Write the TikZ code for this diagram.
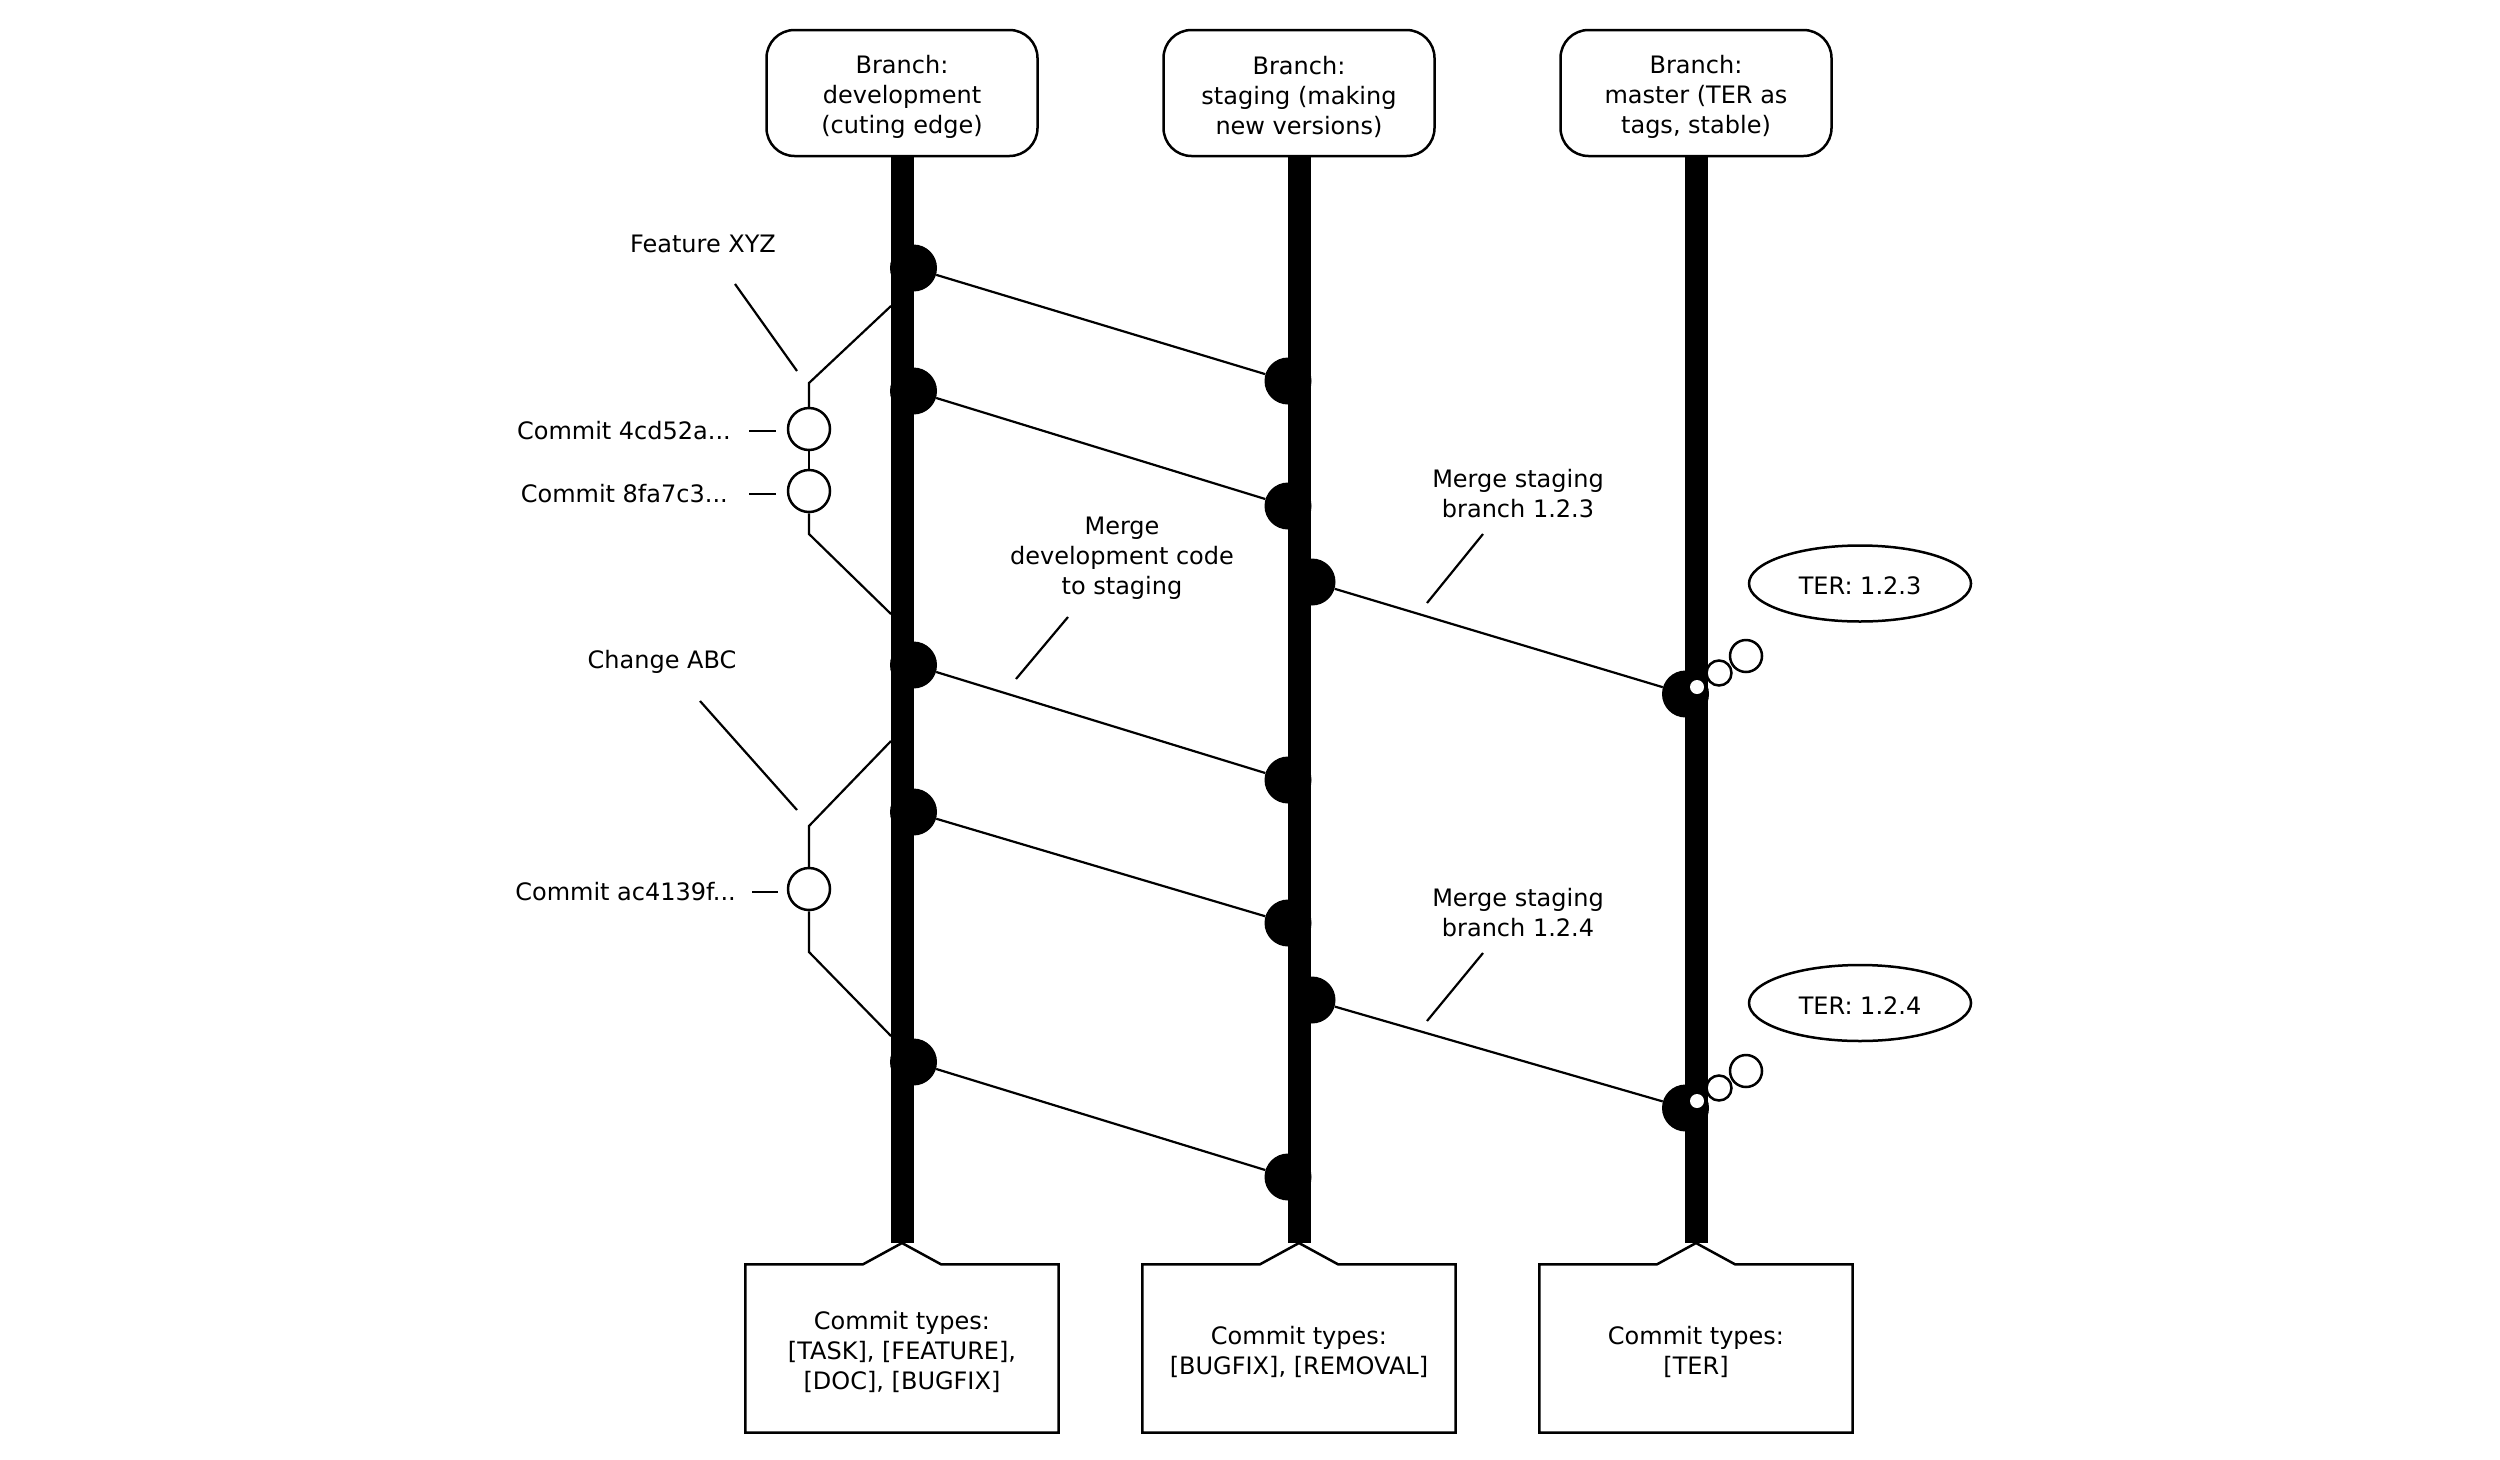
\documentclass[tikz,border=0pt]{standalone}
\usepackage{fontspec}
\setmainfont{DejaVu Sans}
\usetikzlibrary{shapes.geometric,calc}
\begin{document}
\begin{tikzpicture}[x=1pt,y=-1pt]
\tikzset{
 txt/.style={font=\fontsize{24}{30}\selectfont, align=center, inner sep=0pt},
 headbox/.style={draw, line width=2.5pt, rounded corners=28pt, minimum width=271pt, minimum height=126pt, inner sep=0pt},
 footbox/.style={minimum width=313pt, minimum height=168pt, inner sep=0pt},
 trunk/.style={line width=23pt},
 conn/.style={line width=2.2pt},
 boxline/.style={line width=2.5pt, line join=miter},
 hdot/.style={circle, fill=black, minimum size=47pt, inner sep=0pt},
 cmt/.style={circle, draw, fill=white, line width=2.5pt, minimum size=42pt, inner sep=0pt},
 ter/.style={ellipse, draw, line width=2.5pt, minimum width=222pt, minimum height=76pt, inner sep=0pt},
 bub/.style={circle, draw, fill=white, line width=2.5pt, inner sep=0pt},
 wdot/.style={circle, fill=white, minimum size=14pt, inner sep=0pt},
}
\useasboundingbox (0,0) rectangle (2500,1459);

% head boxes
\node[headbox] (topdev) at (902,93) {};
\node[headbox] (topstg) at (1299,93) {};
\node[headbox] (topmst) at (1696,93) {};
\node[txt] (topdevt) at (902,97) {Branch:\\development\\(cuting edge)};
\node[txt] (topstgt) at (1299,97) {Branch:\\staging (making\\new versions)};
\node[txt] (topmstt) at (1696,97) {Branch:\\master (TER as\\tags, stable)};

% trunk ends
\coordinate (adev) at (902,1243);
\coordinate (astg) at (1299,1243);
\coordinate (amst) at (1696,1243);

% bottom boxes
\node[footbox] (botdev) at (902,1348.5) {};
\node[footbox] (botstg) at (1299,1348.5) {};
\node[footbox] (botmst) at (1696,1348.5) {};
\node[txt] (botdevt) at (902,1352) {Commit types:\\{}[TASK], [FEATURE],\\{}[DOC], [BUGFIX]};
\node[txt] (botstgt) at (1299,1352) {Commit types:\\{}[BUGFIX], [REMOVAL]};
\node[txt] (botmstt) at (1696,1352) {Commit types:\\{}[TER]};

\foreach \b/\a in {botdev/adev, botstg/astg, botmst/amst}{
  \draw[boxline] (\b.north west) -- ($(\b.north)+(-39,0)$) -- (\a) -- ($(\b.north)+(39,0)$)
     -- (\b.north east) -- (\b.south east) -- (\b.south west) -- cycle;
}

% trunks
\draw[trunk] (topdev.south) -- (adev);
\draw[trunk] (topstg.south) -- (astg);
\draw[trunk] (topmst.south) -- (amst);

% commit dots
\node[hdot] (d1) at (913.5,268) {};
\node[hdot] (d2) at (913.5,391) {};
\node[hdot] (d3) at (913.5,665) {};
\node[hdot] (d4) at (913.5,812) {};
\node[hdot] (d5) at (913.5,1062) {};
\node[hdot] (s1) at (1288,381) {};
\node[hdot] (s2) at (1288,506) {};
\node[hdot] (s3) at (1288,780) {};
\node[hdot] (s4) at (1288,923) {};
\node[hdot] (s5) at (1288,1177) {};
\node[hdot] (r1) at (1312,582) {};
\node[hdot] (r2) at (1312,1000) {};
\node[hdot] (m1) at (1685.5,694) {};
\node[hdot] (m2) at (1685.5,1108) {};

% merge connectors
\draw[conn] (d1) -- (s1);
\draw[conn] (d2) -- (s2);
\draw[conn] (d3) -- (s3);
\draw[conn] (d4) -- (s4);
\draw[conn] (d5) -- (s5);
\draw[conn] (r1) -- (m1);
\draw[conn] (r2) -- (m2);

% tags on master
\node[wdot] (w1) at (1697,687) {};
\node[wdot] (w2) at (1697,1101) {};
\node[bub, minimum size=25pt] (b1a) at (1719,673) {};
\node[bub, minimum size=32pt] (b1b) at (1746,656) {};
\node[bub, minimum size=25pt] (b2a) at (1719,1088) {};
\node[bub, minimum size=32pt] (b2b) at (1746,1071) {};
\node[ter] (ter1) at (1860,583.5) {};
\node[ter] (ter2) at (1860,1003) {};
\node[txt] (ter1t) at (1860,586) {TER: 1.2.3};
\node[txt] (ter2t) at (1860,1005.5) {TER: 1.2.4};

% feature branch XYZ
\coordinate (fb1) at (891,306);
\coordinate (fk1) at (809,383);
\coordinate (fk2) at (809,534);
\coordinate (fb2) at (891,614);
\node[cmt] (c1) at (809,429) {};
\node[cmt] (c2) at (809,491) {};
\draw[conn] (fb1) -- (fk1) -- (c1);
\draw[conn] (c1) -- (c2);
\draw[conn] (c2) -- (fk2) -- (fb2);

% change ABC
\coordinate (fb3) at (891,741);
\coordinate (fk3) at (809,826);
\coordinate (fk4) at (809,952);
\coordinate (fb4) at (891,1036);
\node[cmt] (c3) at (809,889) {};
\draw[conn] (fb3) -- (fk3) -- (c3);
\draw[conn] (c3) -- (fk4) -- (fb4);

% labels
\node[txt] (lfeat) at (703,244) {Feature XYZ};
\coordinate (lf1) at (735,284);
\coordinate (lf2) at (797,371);
\draw[conn] (lf1) -- (lf2);

\node[txt, anchor=east] (lc1) at (731,431) {Commit 4cd52a...};
\coordinate (lc1a) at (749,431);
\coordinate (lc1b) at (776,431);
\draw[conn] (lc1a) -- (lc1b);

\node[txt, anchor=east] (lc2) at (728,494) {Commit 8fa7c3...};
\coordinate (lc2a) at (749,494);
\coordinate (lc2b) at (776,494);
\draw[conn] (lc2a) -- (lc2b);

\node[txt] (lchg) at (662,662) {Change ABC};
\coordinate (lg1) at (700,701);
\coordinate (lg2) at (797,810);
\draw[conn] (lg1) -- (lg2);

\node[txt, anchor=east] (lc3) at (736,892) {Commit ac4139f...};
\coordinate (lc3a) at (752,892);
\coordinate (lc3b) at (778,892);
\draw[conn] (lc3a) -- (lc3b);

\node[txt] (lmdev) at (1122,558) {Merge\\development code\\to staging};
\coordinate (lm1) at (1068,617);
\coordinate (lm2) at (1016,679);
\draw[conn] (lm1) -- (lm2);

\node[txt] (lm123) at (1518,494) {Merge staging\\branch 1.2.3};
\coordinate (lp1) at (1483,534);
\coordinate (lp2) at (1427,603);
\draw[conn] (lp1) -- (lp2);

\node[txt] (lm124) at (1518,913) {Merge staging\\branch 1.2.4};
\coordinate (lq1) at (1483,953);
\coordinate (lq2) at (1427,1021);
\draw[conn] (lq1) -- (lq2);
\end{tikzpicture}
\end{document}
